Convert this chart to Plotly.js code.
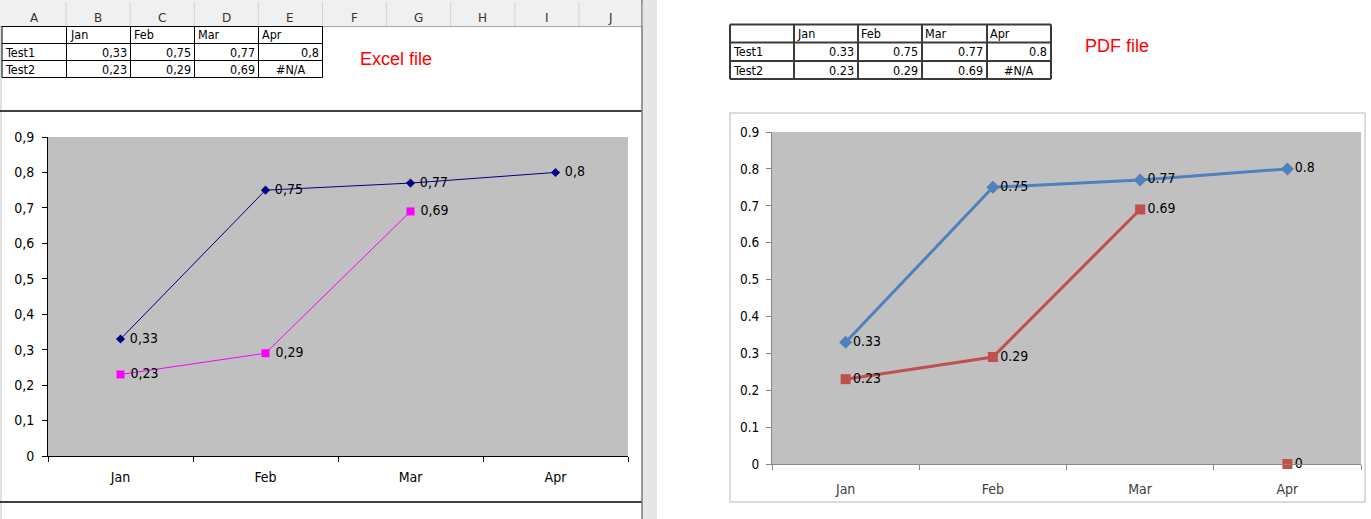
<!DOCTYPE html>
<html>
<head>
<meta charset="utf-8">
<script src="https://cdn.plot.ly/plotly-3.0.1.min.js"></script>
<style>
html,body{margin:0;padding:0;background:#fff;}
#chart{width:1371px;height:519px;}
</style>
</head>
<body>
<div id="chart"></div>
<script>
// ---- data ----
const categories = ['Jan', 'Feb', 'Mar', 'Apr'];
const seriesNames = ['Test1', 'Test2'];
const test1 = [0.33, 0.75, 0.77, 0.8];
const test2 = [0.23, 0.29, 0.69, null];           // Apr is #N/A
const yTicks = [0, 0.1, 0.2, 0.3, 0.4, 0.5, 0.6, 0.7, 0.8, 0.9];
const columnLetters = ['A', 'B', 'C', 'D', 'E', 'F', 'G', 'H', 'I', 'J'];
const naText = '#N/A';

// ---- helpers ----
const W = 1371, H = 519;
const fx = x => x / W;
const fy = y => 1 - y / H;
const comma = v => String(v).replace('.', ',');
const dot = v => String(v);
const fmt = (v, f) => v === null ? naText : f(v);
const pdfTest2 = test2.map(v => v === null ? 0 : v);   // PDF draws #N/A as 0
const NB = '\u00a0';

const FONT_X = 'DejaVu Sans Condensed, DejaVu Sans, sans-serif';
const FONT_P = 'DejaVu Sans Condensed, DejaVu Sans, sans-serif';

const shapes = [];
const annotations = [];

// ---- spreadsheet-like tables (lines as shapes, cell texts from the data arrays) ----
function drawTable(colEdges, rowEdges, f, lineW, lineC) {
  const rows = [[''].concat(categories)];
  [test1, test2].forEach((s, r) => rows.push([seriesNames[r]].concat(s.map(v => fmt(v, f)))));
  rowEdges.forEach(y => shapes.push({type: 'line', xref: 'paper', yref: 'paper',
    x0: fx(colEdges[0]), x1: fx(colEdges[colEdges.length - 1]), y0: fy(y), y1: fy(y),
    line: {color: lineC, width: lineW}}));
  colEdges.forEach(x => shapes.push({type: 'line', xref: 'paper', yref: 'paper',
    x0: fx(x), x1: fx(x), y0: fy(rowEdges[0]), y1: fy(rowEdges[rowEdges.length - 1]),
    line: {color: lineC, width: lineW}}));
  rows.forEach((row, r) => {
    const yc = (rowEdges[r] + rowEdges[r + 1]) / 2;
    row.forEach((txt, c) => {
      if (txt === '') return;
      const left = colEdges[c], right = colEdges[c + 1];
      let x, anchor;
      if (r === 0 || c === 0) { x = left + 1; anchor = 'left'; }
      else if (txt === naText) { x = (left + right) / 2; anchor = 'center'; }
      else { x = right - 2; anchor = 'right'; }
      annotations.push({xref: 'paper', yref: 'paper', x: fx(x), y: fy(yc), text: txt,
        showarrow: false, xanchor: anchor, yanchor: 'middle',
        font: {family: FONT_X, size: 12.5, color: '#000'}});
    });
  });
}

// sheet chrome
shapes.push(
  {type: 'rect', xref: 'paper', yref: 'paper', x0: fx(0), x1: fx(642), y0: fy(26.5), y1: fy(0),
   fillcolor: '#f0f0f0', line: {width: 0}, layer: 'below'},
  {type: 'line', xref: 'paper', yref: 'paper', x0: fx(0), x1: fx(642), y0: fy(26.5), y1: fy(26.5),
   line: {color: '#a6a6a6', width: 1}},
  {type: 'rect', xref: 'paper', yref: 'paper', x0: fx(0), x1: fx(2), y0: fy(519), y1: fy(26),
   fillcolor: '#e0e0e0', line: {width: 0}, layer: 'below'},
  {type: 'line', xref: 'paper', yref: 'paper', x0: fx(0), x1: fx(642), y0: fy(111), y1: fy(111),
   line: {color: '#000', width: 1.5}},
  {type: 'line', xref: 'paper', yref: 'paper', x0: fx(0), x1: fx(642), y0: fy(502), y1: fy(502),
   line: {color: '#000', width: 1.5}},
  {type: 'rect', xref: 'paper', yref: 'paper', x0: fx(642), x1: fx(657), y0: 0, y1: 1,
   fillcolor: '#e6e6e6', line: {width: 0}, layer: 'below'},
  {type: 'line', xref: 'paper', yref: 'paper', x0: fx(642), x1: fx(642), y0: 0, y1: 1,
   line: {color: '#7a7a7a', width: 1.5}},
  {type: 'rect', xref: 'paper', yref: 'paper', x0: fx(730), x1: fx(1365), y0: fy(502), y1: fy(113),
   line: {color: '#d0d0d0', width: 1.5}}
);
columnLetters.forEach((c, i) => {
  const left = 2 + 64.1 * i, right = left + 64.1;
  shapes.push({type: 'line', xref: 'paper', yref: 'paper',
    x0: fx(right), x1: fx(right), y0: fy(26), y1: fy(2),
    line: {color: '#d4d4d4', width: 1}});
  annotations.push({xref: 'paper', yref: 'paper', x: fx((left + right) / 2), y: fy(18), text: c,
    showarrow: false, xanchor: 'center', yanchor: 'middle',
    font: {family: 'DejaVu Sans, sans-serif', size: 12, color: '#333'}});
});

drawTable([2, 66.5, 130.5, 194.5, 258.5, 322.5], [26.5, 43.5, 60.5, 77.5], comma, 1, '#000');
drawTable([730, 794, 858, 922, 987, 1051], [24.5, 42.5, 61, 79], dot, 2, '#3a3a3a');

annotations.push({xref: 'paper', yref: 'paper', x: fx(396), y: fy(59), text: 'Excel file',
  showarrow: false, xanchor: 'center', yanchor: 'middle',
  font: {family: 'Liberation Sans, Arial, sans-serif', size: 18, color: '#ff0000'}});
annotations.push({xref: 'paper', yref: 'paper', x: fx(1117), y: fy(46), text: 'PDF file',
  showarrow: false, xanchor: 'center', yanchor: 'middle',
  font: {family: 'Liberation Sans, Arial, sans-serif', size: 18, color: '#ff0000'}});

// ---- chart traces ----
const traces = [
  // Excel chart
  {x: categories, y: test1, xaxis: 'x', yaxis: 'y', mode: 'lines+markers+text',
   text: test1.map(v => NB + comma(v)), textposition: 'middle right',
   textfont: {family: FONT_X, size: 14, color: '#000'},
   line: {color: '#000080', width: 1}, marker: {symbol: 'diamond', size: 7, color: '#000080'},
   cliponaxis: false, hoverinfo: 'skip'},
  {x: categories, y: test2, xaxis: 'x', yaxis: 'y', mode: 'lines+markers+text',
   text: test2.map(v => v === null ? '' : NB + comma(v)), textposition: 'middle right',
   textfont: {family: FONT_X, size: 14, color: '#000'},
   line: {color: '#ff00ff', width: 1}, marker: {symbol: 'square', size: 8, color: '#ff00ff'},
   cliponaxis: false, hoverinfo: 'skip'},
  // PDF chart
  {x: categories, y: test2, xaxis: 'x2', yaxis: 'y2', mode: 'lines',
   line: {color: '#c0504d', width: 3}, hoverinfo: 'skip'},
  {x: categories, y: pdfTest2, xaxis: 'x2', yaxis: 'y2', mode: 'markers+text',
   text: pdfTest2.map(dot), textposition: 'middle right',
   textfont: {family: FONT_P, size: 14, color: '#000'},
   marker: {symbol: 'square', size: 10, color: '#c0504d'},
   cliponaxis: false, hoverinfo: 'skip'},
  {x: categories, y: test1, xaxis: 'x2', yaxis: 'y2', mode: 'lines+markers+text',
   text: test1.map(dot), textposition: 'middle right',
   textfont: {family: FONT_P, size: 14, color: '#000'},
   line: {color: '#4f81bd', width: 3}, marker: {symbol: 'diamond', size: 10, color: '#4f81bd'},
   cliponaxis: false, hoverinfo: 'skip'}
];

const layout = {
  width: W, height: H,
  margin: {l: 0, r: 0, t: 0, b: 0},
  paper_bgcolor: '#ffffff',
  plot_bgcolor: '#c0c0c0',
  showlegend: false,
  shapes: shapes,
  annotations: annotations,
  xaxis: {domain: [fx(48), fx(628)], anchor: 'y', type: 'category', range: [-0.5, 3.5],
    tickson: 'boundaries', ticks: 'outside', ticklen: 5, tickcolor: '#000',
    showline: true, linecolor: '#000', linewidth: 1, showgrid: false, zeroline: false,
    ticklabelstandoff: 8,
    tickfont: {family: FONT_X, size: 14, color: '#000'}, fixedrange: true},
  yaxis: {domain: [fy(456), fy(137)], anchor: 'x', range: [0, 0.9],
    tickvals: yTicks, ticktext: yTicks.map(comma),
    ticks: 'outside', ticklen: 5, tickcolor: '#000',
    showline: true, linecolor: '#000', linewidth: 1, showgrid: false, zeroline: false,
    ticklabelstandoff: 5,
    tickfont: {family: FONT_X, size: 14, color: '#000'}, fixedrange: true},
  xaxis2: {domain: [fx(772), fx(1361)], anchor: 'y2', type: 'category', range: [-0.5, 3.5],
    tickson: 'boundaries', ticks: 'outside', ticklen: 5, tickcolor: '#868686',
    showline: true, linecolor: '#868686', linewidth: 1, showgrid: false, zeroline: false,
    ticklabelstandoff: 12,
    tickfont: {family: FONT_P, size: 14, color: '#404040'}, fixedrange: true},
  yaxis2: {domain: [fy(464), fy(132)], anchor: 'x2', range: [0, 0.9],
    tickvals: yTicks, ticktext: yTicks.map(dot),
    ticks: 'outside', ticklen: 5, tickcolor: '#868686',
    showline: true, linecolor: '#868686', linewidth: 1, showgrid: false, zeroline: false,
    ticklabelstandoff: 4,
    tickfont: {family: FONT_P, size: 13.5, color: '#000'}, fixedrange: true}
};

Plotly.newPlot('chart', traces, layout, {displayModeBar: false, staticPlot: true});
</script>
</body>
</html>
